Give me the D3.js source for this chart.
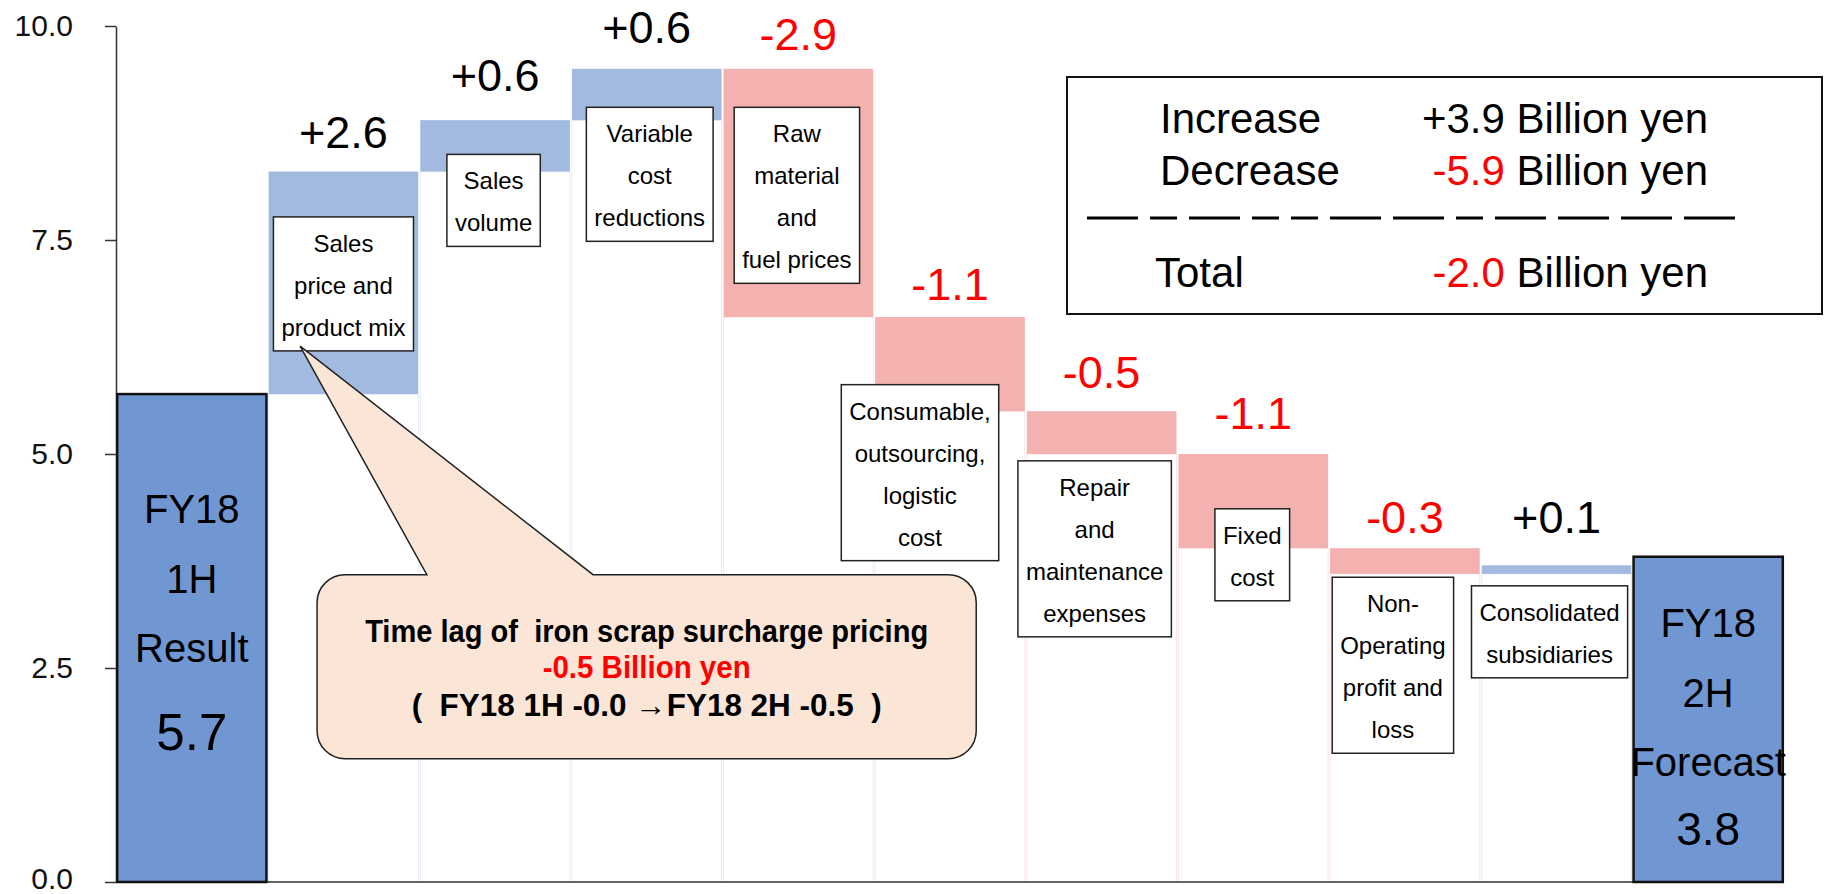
<!DOCTYPE html>
<html>
<head>
<meta charset="utf-8">
<script src="https://cdn.jsdelivr.net/npm/d3@7"></script>
<style>
  html, body { margin: 0; padding: 0; background: #fff; }
  svg { display: block; font-family: "Liberation Sans", Arial, sans-serif; }
  text { white-space: pre; }
</style>
</head>
<body>
<svg id="chart" width="1824" height="894"></svg>
<script>
// ---- data ----
const categories = [
  "FY18 1H Result",
  "Sales price and product mix",
  "Sales volume",
  "Variable cost reductions",
  "Raw material and fuel prices",
  "Consumable, outsourcing, logistic cost",
  "Repair and maintenance expenses",
  "Fixed cost",
  "Non-Operating profit and loss",
  "Consolidated subsidiaries",
  "FY18 2H Forecast"
];
const startValue = 5.7;
const changes = [2.6, 0.6, 0.6, -2.9, -1.1, -0.5, -1.1, -0.3, 0.1];
const endValue = 3.8;

const noteLines = [
  ["Sales", "price and", "product mix"],
  ["Sales", "volume"],
  ["Variable", "cost", "reductions"],
  ["Raw", "material", "and", "fuel prices"],
  ["Consumable,", "outsourcing,", "logistic", "cost"],
  ["Repair", "and", "maintenance", "expenses"],
  ["Fixed", "cost"],
  ["Non-", "Operating", "profit and", "loss"],
  ["Consolidated", "subsidiaries"]
];
const totalLines = [["FY18", "1H", "Result"], ["FY18", "2H", "Forecast"]];

const yTicks = [0, 2.5, 5, 7.5, 10];

const summaryLabels = ["Increase", "Decrease", "Total"];
const summaryValues = [3.9, -5.9, -2.0];
const summaryUnit = "Billion yen";

const calloutTitle = "Time lag of\u00a0\u00a0iron scrap surcharge pricing";
const calloutValue = -0.5;
const calloutDetail = "(\u00a0\u00a0FY18 1H -0.0 \u2192FY18 2H -0.5\u00a0\u00a0)";

// ---- layout ----
const layout = {
  valueLift: [23.5, 29, 26, 19, 17, 23, 25, 15, 32],   // px above bar top for step labels
  noteTop: [7.77, 8.50, 9.05, 9.05, 5.81, 4.92, 4.36, 3.56, 3.46], // value units
  noteShift: [0, -1.5, 3, -1.5, -30, -7, -1, -12, -7], // px from band centre
  totalFirstBaseline: [4.19, 2.86],                    // value units
  totalValueGap: [88, 69],
  totalValueSize: [51, 46]
};

const colors = {
  total: "#7197d3",
  up: "#a2badf",
  down: "#f3b1b0",
  upEdge: "#e4ebf6",
  downEdge: "#fbe6e6",
  red: "#ff0000",
  callout: "#fbe5d6"
};

const svg = d3.select("#chart");

const x = d3.scaleBand().domain(categories).range([116, 1784]).padding(0);
const y = d3.scaleLinear().domain([0, 10]).range([882, 26]);
const bw = x.bandwidth();
const step = x.step();
const bx = u => x.range()[0] + u * step;   // position in band units

// running totals
const steps = [];
let run = startValue;
changes.forEach((c, i) => {
  const from = run, to = run + c;
  steps.push({ cat: categories[i + 1], change: c, lo: Math.min(from, to), hi: Math.max(from, to), idx: i });
  run = to;
});

const fmtSigned = v => (v > 0 ? "+" : "-") + Math.abs(v).toFixed(1);

// invisible base columns under floating bars (faint outline only)
svg.append("g").selectAll("rect").data(steps).join("rect")
  .attr("x", d => x(d.cat) + 1)
  .attr("width", bw - 2)
  .attr("y", d => y(d.lo))
  .attr("height", d => y(0) - y(d.lo))
  .attr("fill", "#fff")
  .attr("stroke", d => d.change > 0 ? colors.upEdge : colors.downEdge)
  .attr("stroke-width", 1);

// floating change bars
svg.append("g").selectAll("rect").data(steps).join("rect")
  .attr("x", d => x(d.cat) + 1)
  .attr("width", bw - 2)
  .attr("y", d => y(d.hi))
  .attr("height", d => y(d.lo) - y(d.hi))
  .attr("fill", d => d.change > 0 ? colors.up : colors.down);

// axes
const yAxis = d3.axisLeft(y).tickValues(yTicks).tickFormat(d3.format(".1f"))
  .tickSize(11).tickSizeOuter(0).tickPadding(32);
const gy = svg.append("g").attr("transform", `translate(${x.range()[0]},0)`).call(yAxis);
gy.select(".domain").attr("stroke", "#333").attr("stroke-width", 1.5);
gy.selectAll(".tick line").attr("stroke", "#333").attr("stroke-width", 1.5);
gy.selectAll(".tick text").attr("font-size", 30).attr("fill", "#111")
  .attr("font-family", "Liberation Sans, Arial, sans-serif");
// keep the bottom tick label inside the frame
gy.selectAll(".tick text").filter(d => d === 0).attr("dy", "0.2em");

svg.append("line")
  .attr("x1", x.range()[0]).attr("x2", x.range()[1])
  .attr("y1", y(0)).attr("y2", y(0))
  .attr("stroke", "#333").attr("stroke-width", 1.5);

// total bars
const totals = [
  { cat: categories[0], value: startValue, k: 0 },
  { cat: categories[categories.length - 1], value: endValue, k: 1 }
];
svg.append("g").selectAll("rect").data(totals).join("rect")
  .attr("x", d => x(d.cat) + 1.2)
  .attr("width", bw - 2.4)
  .attr("y", d => y(d.value))
  .attr("height", d => y(0) - y(d.value))
  .attr("fill", colors.total)
  .attr("stroke", "#111")
  .attr("stroke-width", 2.5);

const tg = svg.append("g").attr("text-anchor", "middle").attr("fill", "#000");
totals.forEach(d => {
  const cx = x(d.cat) + bw / 2;
  const b0 = y(layout.totalFirstBaseline[d.k]);
  totalLines[d.k].forEach((t, j) => {
    tg.append("text").attr("x", cx).attr("y", b0 + j * 69.5)
      .attr("font-size", 40).text(t);
  });
  tg.append("text").attr("x", cx)
    .attr("y", b0 + 2 * 69.5 + layout.totalValueGap[d.k])
    .attr("font-size", layout.totalValueSize[d.k])
    .text(d.value.toFixed(1));
});

// step value labels
svg.append("g").attr("text-anchor", "middle").selectAll("text").data(steps).join("text")
  .attr("x", d => x(d.cat) + bw / 2)
  .attr("y", d => y(d.hi) - layout.valueLift[d.idx])
  .attr("font-size", 45)
  .attr("fill", d => d.change > 0 ? "#000" : colors.red)
  .text(d => fmtSigned(d.change));

// category note boxes
steps.forEach(d => {
  const i = d.idx;
  const cx = x(d.cat) + bw / 2 + layout.noteShift[i];
  const top = y(layout.noteTop[i]);
  const lines = noteLines[i];
  const g = svg.append("g");
  const rect = g.append("rect").attr("fill", "#fff").attr("stroke", "#222").attr("stroke-width", 1.5);
  let maxW = 0;
  lines.forEach((t, j) => {
    const tx = g.append("text").attr("x", cx).attr("y", top + 35 + j * 42)
      .attr("text-anchor", "middle").attr("font-size", 24).attr("fill", "#000").text(t);
    maxW = Math.max(maxW, tx.node().getComputedTextLength());
  });
  const w = maxW + 16;
  rect.attr("x", cx - w / 2).attr("y", top).attr("width", w).attr("height", lines.length * 42 + 8);
});

// callout bubble pointing at the first step's note
const cL = bx(1.326), cR = bx(5.673), cT = y(3.59), cB = y(1.44), r = 28;
const tailA = bx(2.05), tailB = bx(3.146);
const tipX = bx(1.214), tipY = y(6.26);
const p = d3.path();
p.moveTo(cL + r, cT);
p.lineTo(tailA, cT);
p.lineTo(tipX, tipY);
p.lineTo(tailB, cT);
p.lineTo(cR - r, cT);
p.arcTo(cR, cT, cR, cT + r, r);
p.lineTo(cR, cB - r);
p.arcTo(cR, cB, cR - r, cB, r);
p.lineTo(cL + r, cB);
p.arcTo(cL, cB, cL, cB - r, r);
p.lineTo(cL, cT + r);
p.arcTo(cL, cT, cL + r, cT, r);
p.closePath();
svg.append("path").attr("d", p.toString())
  .attr("fill", colors.callout).attr("stroke", "#222").attr("stroke-width", 1.5);

const ccx = (cL + cR) / 2;
const cg = svg.append("g").attr("text-anchor", "middle").attr("font-weight", "bold")
  .attr("font-size", 31);
cg.append("text").attr("x", ccx).attr("y", cT + 67).attr("fill", "#000")
  .attr("textLength", 563).attr("lengthAdjust", "spacingAndGlyphs").text(calloutTitle);
cg.append("text").attr("x", ccx).attr("y", cT + 103).attr("fill", colors.red)
  .attr("textLength", 208).attr("lengthAdjust", "spacingAndGlyphs")
  .text(fmtSigned(calloutValue) + " " + summaryUnit);
cg.append("text").attr("x", ccx).attr("y", cT + 141).attr("fill", "#000")
  .attr("textLength", 470).attr("lengthAdjust", "spacingAndGlyphs").text(calloutDetail);

// summary box
const sb = svg.append("g");
sb.append("rect").attr("x", 1067).attr("y", 77).attr("width", 755).attr("height", 237)
  .attr("fill", "#fff").attr("stroke", "#111").attr("stroke-width", 2);
const rowBase = [133, 185, 287];
const rowLeft = [1160, 1160, 1155];
summaryLabels.forEach((lab, i) => {
  sb.append("text").attr("x", rowLeft[i]).attr("y", rowBase[i])
    .attr("font-size", 42).attr("fill", "#000").text(lab);
  const t = sb.append("text").attr("x", 1708).attr("y", rowBase[i])
    .attr("text-anchor", "end").attr("font-size", 42);
  t.append("tspan").attr("fill", summaryValues[i] > 0 ? "#000" : colors.red)
    .text(fmtSigned(summaryValues[i]));
  t.append("tspan").attr("fill", "#000").text(" " + summaryUnit);
});
// long/short dash rule
const L = 51, S = 27, G = 12;
const dashSeq = [L, S, L, S, S, L, L, S, L, L, L, L];
const dash = [];
dashSeq.forEach((d, i) => { dash.push(d); dash.push(i < dashSeq.length - 1 ? G : 400); });
sb.append("line").attr("x1", 1087).attr("x2", 1087 + d3.sum(dashSeq) + G * (dashSeq.length - 1))
  .attr("y1", 218).attr("y2", 218)
  .attr("stroke", "#000").attr("stroke-width", 3.2)
  .attr("stroke-dasharray", dash.join(","));
</script>
</body>
</html>
